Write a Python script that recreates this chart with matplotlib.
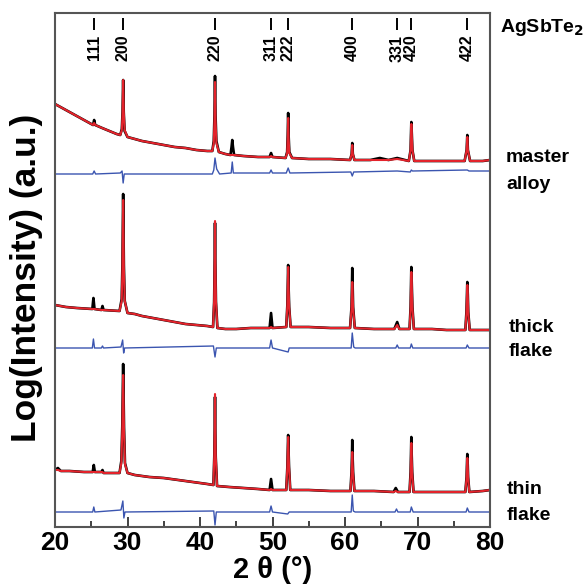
import numpy as np
import matplotlib
matplotlib.use("Agg")
import matplotlib.pyplot as plt
import matplotlib.transforms as mtransforms

plt.rcParams['font.family'] = ['Liberation Sans', 'DejaVu Sans']
plt.rcParams['font.weight'] = 'bold'

# AgSbTe2 reflections (2 theta, hkl)
hkl_pos = [25.39, 29.40, 42.07, 49.78, 52.16, 61.00, 67.17, 69.15, 76.87]
hkl_lbl = ["111", "200", "220", "311", "222", "400", "331", "420", "422"]

# rows: 2theta, observed, calculated  (log intensity, shifted, a.u.)
master = [
    (20.0, 423, 423), (21.0, 419, 419), (22.0, 415, 415), (23.0, 411, 411),
    (24.0, 407, 407), (25.0, 403, 403), (25.25, 402, 402), (25.4, 407, 404),
    (25.55, 402, 402), (26.5, 399, 399), (27.5, 396, 396), (28.5, 393, 393),
    (29.0, 392, 392), (29.22, 398, 397), (29.32, 415, 414), (29.4, 447, 447),
    (29.48, 415, 416), (29.6, 396, 397), (30.0, 390, 390), (31.0, 388, 388),
    (32.0, 386, 386), (33.5, 384, 384), (35.0, 382, 382), (36.5, 380, 380),
    (38.0, 379, 379), (39.5, 377, 377), (41.0, 376, 376), (41.7, 376, 376),
    (41.9, 386, 384), (42.0, 412, 408), (42.07, 451, 445), (42.14, 412, 408),
    (42.26, 386, 384), (42.6, 375, 375), (43.5, 373, 373), (44.2, 372, 372),
    (44.35, 380, 372), (44.45, 387, 372), (44.55, 380, 372), (44.7, 372, 372),
    (46.0, 371, 371), (48.0, 370, 370), (49.6, 370, 370), (49.8, 374, 371),
    (50.0, 370, 370), (51.8, 369, 369), (52.02, 375, 374), (52.1, 392, 389),
    (52.16, 414, 409), (52.22, 392, 389), (52.32, 375, 374), (52.7, 369, 369),
    (55.0, 368, 368), (58.0, 368, 368), (60.7, 367, 367), (60.92, 373, 373),
    (61.0, 384, 382), (61.08, 373, 373), (61.3, 367, 367), (63.5, 367, 367),
    (64.8, 369, 367), (66.0, 367, 367), (67.2, 369, 368), (68.8, 366, 366),
    (69.05, 377, 377), (69.1, 392, 391), (69.15, 405, 403), (69.22, 392, 391),
    (69.3, 377, 377), (69.55, 366, 366), (72.0, 366, 366), (74.0, 366, 366),
    (76.5, 366, 366), (76.78, 377, 377), (76.87, 392, 390), (76.95, 377, 377),
    (77.25, 366, 366), (79.0, 366, 366), (80.0, 367, 367),
]
master_diff = [
    (20.0, 353), (25.2, 353), (25.4, 356), (25.6, 353), (29.0, 354), (29.25, 356),
    (29.4, 344), (29.55, 353), (30.0, 353), (41.7, 353), (41.9, 357), (42.07, 369),
    (42.3, 358), (42.7, 353), (44.3, 354), (44.45, 365), (44.6, 354), (49.6, 354),
    (49.8, 357), (50.0, 354), (51.9, 354), (52.16, 359), (52.4, 354), (60.8, 355),
    (61.0, 351), (61.2, 355), (67.2, 356), (69.0, 355), (69.15, 357), (69.3, 356),
    (76.87, 357), (77.1, 356), (80.0, 356),
]

thick = [
    (20.0, 222, 222), (21.5, 220, 220), (23.0, 219, 219), (25.15, 218, 218),
    (25.3, 229, 218), (25.45, 218, 218), (26.4, 217, 217), (26.55, 221, 217),
    (26.7, 217, 217), (28.9, 216, 216), (29.2, 228, 226), (29.3, 262, 258),
    (29.4, 333, 327), (29.5, 262, 258), (29.62, 226, 226), (30.0, 214, 214),
    (31.0, 213, 213), (32.0, 211, 211), (33.5, 209, 209), (35.0, 207, 207),
    (36.5, 205, 205), (38.0, 203, 203), (39.5, 202, 202), (41.0, 201, 201),
    (41.8, 200, 200), (41.95, 225, 226), (42.02, 265, 266), (42.07, 304, 306),
    (42.12, 265, 266), (42.2, 225, 226), (42.4, 199, 199), (43.5, 198, 198),
    (45.0, 198, 198), (47.0, 199, 199), (49.6, 199, 199), (49.8, 214, 200),
    (50.0, 199, 199), (51.9, 200, 200), (52.05, 222, 222), (52.1, 240, 239),
    (52.16, 262, 260), (52.22, 240, 239), (52.3, 220, 220), (52.5, 200, 200),
    (55.0, 200, 200), (58.0, 199, 199), (60.7, 199, 199), (60.9, 220, 218),
    (60.96, 240, 233), (61.0, 259, 245), (61.06, 240, 233), (61.12, 220, 218),
    (61.35, 199, 199), (64.0, 198, 198), (66.8, 198, 198), (67.2, 205, 202),
    (67.5, 198, 198), (68.9, 198, 198), (69.05, 220, 219), (69.1, 240, 238),
    (69.15, 260, 255), (69.22, 240, 238), (69.3, 220, 219), (69.5, 198, 198),
    (72.0, 198, 198), (74.0, 197, 197), (76.6, 197, 197), (76.75, 215, 214),
    (76.82, 232, 230), (76.87, 245, 242), (76.94, 232, 230), (77.0, 215, 214),
    (77.2, 197, 197), (79.0, 197, 197), (80.0, 197, 197),
]
thick_diff = [
    (20.0, 179), (25.15, 179), (25.3, 188), (25.45, 179), (26.4, 179), (26.55, 181),
    (26.7, 179), (29.1, 180), (29.33, 187), (29.47, 174), (29.6, 179), (41.85, 181),
    (42.07, 170), (42.25, 179), (49.6, 179), (49.8, 187), (50.0, 179), (52.16, 175),
    (52.3, 179), (60.85, 179), (61.0, 194), (61.2, 180), (61.4, 179), (67.0, 179),
    (67.2, 182), (67.4, 179), (69.0, 179), (69.15, 183), (69.35, 179), (76.7, 179),
    (76.87, 182), (77.1, 179), (80.0, 179),
]

thin = [
    (20.0, 57, 57), (20.4, 59, 57), (20.8, 56, 56), (22.0, 56, 56),
    (24.0, 55, 55), (25.2, 55, 55), (25.35, 62, 55), (25.5, 55, 55),
    (26.4, 55, 55), (26.55, 57, 55), (26.7, 54, 54), (28.9, 54, 54),
    (29.15, 66, 64), (29.28, 100, 96), (29.4, 163, 152), (29.52, 100, 96),
    (29.65, 64, 63), (30.0, 54, 54), (31.0, 52, 52), (33.0, 50, 50),
    (35.0, 49, 49), (37.0, 47, 47), (39.0, 45, 45), (41.0, 43, 43),
    (41.85, 42, 42), (41.97, 70, 71), (42.02, 95, 97), (42.07, 130, 133),
    (42.12, 95, 97), (42.17, 70, 71), (42.35, 41, 41), (44.0, 40, 40),
    (46.0, 39, 39), (48.0, 38, 38), (49.6, 37, 37), (49.8, 48, 38),
    (50.0, 37, 37), (51.9, 37, 37), (52.05, 60, 60), (52.1, 75, 74),
    (52.16, 92, 90), (52.22, 75, 74), (52.28, 60, 60), (52.45, 37, 37),
    (55.0, 37, 37), (58.0, 36, 36), (60.75, 36, 36), (60.9, 55, 52),
    (60.96, 70, 63), (61.0, 87, 75), (61.05, 70, 63), (61.12, 55, 52),
    (61.3, 36, 36), (64.0, 36, 36), (66.7, 35, 35), (67.0, 39, 36),
    (67.3, 35, 35), (68.9, 35, 35), (69.05, 55, 53), (69.1, 72, 69),
    (69.15, 90, 84), (69.2, 72, 69), (69.27, 55, 53), (69.45, 35, 35),
    (72.0, 35, 35), (74.0, 35, 35), (76.6, 35, 35), (76.77, 50, 49),
    (76.82, 62, 60), (76.87, 73, 69), (76.93, 62, 60), (76.98, 50, 49),
    (77.15, 35, 35), (79.0, 36, 36), (80.0, 37, 37),
]
thin_diff = [
    (20.0, 15), (25.2, 15), (25.35, 20), (25.5, 15), (29.1, 17), (29.36, 26),
    (29.5, 9), (29.65, 15), (41.9, 16), (42.07, 2), (42.25, 15), (49.6, 15),
    (49.8, 21), (50.0, 15), (52.1, 13), (52.3, 15), (60.85, 15), (61.0, 32),
    (61.15, 16), (61.4, 15), (66.9, 15), (67.1, 18), (67.3, 15), (69.0, 15),
    (69.15, 20), (69.4, 15), (76.7, 15), (76.87, 19), (77.1, 15), (80.0, 15),
]

sample_names = [("master", "alloy"), ("thick", "flake"), ("thin", "flake")]

W = 586
fig = plt.figure(figsize=(5.86, 5.86), dpi=100)
ax = fig.add_axes([55 / W, 59 / W, 435 / W, 514 / W])

for pat, dif in [(master, master_diff), (thick, thick_diff), (thin, thin_diff)]:
    x, obs, calc = np.array(pat, dtype=float).T
    dx, dy = np.array(dif, dtype=float).T
    ax.plot(x, obs, color='black', lw=1.9, solid_joinstyle='round')
    ax.plot(x, calc, color='#e3232b', lw=1.5)
    ax.plot(dx, dy, color='#3b55b0', lw=1.0)

ax.set_xlim(20, 80)
ax.set_ylim(0, 514)
ax.set_yticks([])
ax.set_xticks(np.arange(20, 81, 10))
ax.set_xticks(np.arange(25, 80, 10), minor=True)
ax.tick_params(axis='x', which='major', direction='in', length=7, width=1.3,
               pad=3, labelsize=19, colors='#333333', labelcolor='black')
ax.tick_params(axis='x', which='minor', direction='in', length=4, width=1.3,
               colors='#333333')
for lab in ax.get_xticklabels():
    lab.set_fontweight('bold')
for s in ax.spines.values():
    s.set_color('#555555')
    s.set_linewidth(1.5)

# reflection markers along the top
trans = mtransforms.blended_transform_factory(ax.transData, ax.transAxes)
ax.vlines(hkl_pos, 0.967, 0.99, transform=trans, color='black', lw=1.4)
for p, lbl in zip(hkl_pos, hkl_lbl):
    ax.text(p, 0.958, lbl, transform=trans, rotation=90, ha='center', va='top',
            fontsize=11.5, fontweight='bold')

ax.set_xlabel('2 θ (°)', fontsize=21, fontweight='bold', va='top')
ax.xaxis.set_label_coords(0.5, -0.056)
ax.set_ylabel('Log(Intensity) (a.u.)', fontsize=25.5, fontweight='bold', va='center')
ax.yaxis.set_label_coords(-0.065, 0.485)

fig.text(500 / W, 1 - 27 / W, 'AgSbTe$_\\mathbf{2}$', fontsize=14, fontweight='bold',
         va='center', ha='left')
label_y = [(158, 185), (328, 352), (490, 516)]
label_x = [506, 509, 507]
for (a, b), (y1, y2), lx in zip(sample_names, label_y, label_x):
    fig.text(lx / W, 1 - y1 / W, a, fontsize=14, fontweight='bold', va='center')
    fig.text(lx / W, 1 - y2 / W, b, fontsize=14, fontweight='bold', va='center')

fig.savefig('out.png', dpi=100)
